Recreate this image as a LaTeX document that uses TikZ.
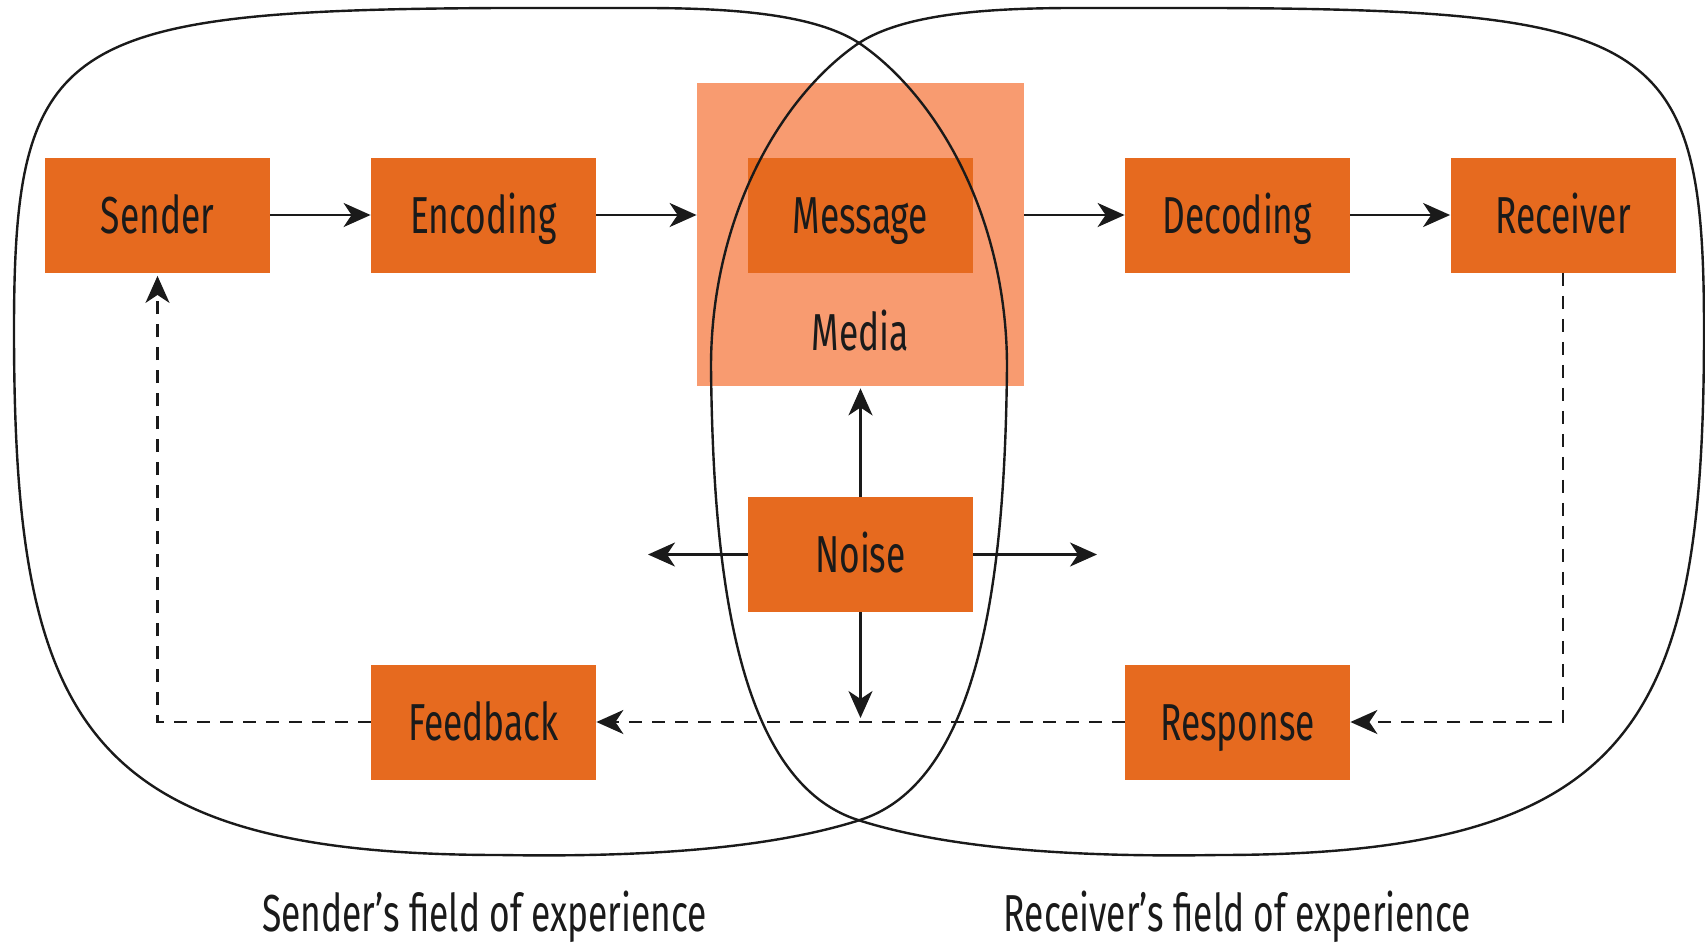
\documentclass[tikz,border=0pt]{standalone}
\usepackage{fontspec}
\setmainfont{Fira Sans}[FakeStretch=0.68]
\usetikzlibrary{arrows.meta}

\definecolor{boxorange}{RGB}{230,106,31}
\definecolor{mediaorange}{RGB}{248,155,112}
\definecolor{ink}{RGB}{26,26,26}

\tikzset{
  labelfont/.style={font=\fontsize{26}{30}\selectfont, text=ink, text height=18pt, text depth=0pt, inner sep=0pt},
  stagebox/.style={labelfont, fill=boxorange, minimum width=112.5pt, minimum height=57.5pt},
  arrowline/.style={draw=ink, line width=1.25pt, -{Stealth[length=13.5pt,width=12pt,inset=4pt]}},
  dashline/.style={arrowline, dash pattern=on 6.5pt off 5pt},
  fieldline/.style={draw=ink, line width=1.2pt},
  fieldoutline/.style={insert path={
    (500,8) .. controls (60,10) and (14,40) .. (14,330)
    .. controls (14,720) and (80,855) .. (500,855)
    .. controls (620,857) and (760,852) .. (860,820)
    .. controls (985,780) and (1005,560) .. (1007,367)
    .. controls (1007,220) and (940,100) .. (862,45)
    .. controls (805,5) and (680,8) .. (600,8) -- cycle}}
}

\begin{document}
\begin{tikzpicture}[x=0.5pt,y=-0.5pt]
  \fill[white] (0,0) rectangle (1705,943);
  \useasboundingbox (0,0) rectangle (1705,943);

  % media band behind the message
  \node[fill=mediaorange, minimum width=163.5pt, minimum height=151.5pt, inner sep=0pt] (media) at (860.5,234.5) {};
  \node[labelfont] (medialabel) at (860.5,332) {Media};

  % stages
  \node[stagebox] (sender)   at (157.5,215) {Sender};
  \node[stagebox] (encoding) at (483.5,215) {Encoding};
  \node[stagebox] (message)  at (860.5,215.5) {Message};
  \node[stagebox] (decoding) at (1237.5,215) {Decoding};
  \node[stagebox] (receiver) at (1563,215) {Receiver};
  \node[stagebox] (noise)    at (860.5,554.5) {Noise};
  \node[stagebox] (feedback) at (483.5,722) {Feedback};
  \node[stagebox] (response) at (1237.5,722) {Response};

  % fields of experience
  \draw[fieldline, fieldoutline];
  \begin{scope}[shift={(1718,0)}, xscale=-1]
    \draw[fieldline, fieldoutline];
  \end{scope}

  \node[labelfont] (senderfield)   at (484.5,913.5) {Sender’s field of experience};
  \node[labelfont] (receiverfield) at (1237.5,913.5) {Receiver’s field of experience};

  % forward flow
  \draw[arrowline] (sender) -- (encoding);
  \draw[arrowline] (encoding.east) -- (encoding.east -| media.west);
  \draw[arrowline] (decoding.west -| media.east) -- (decoding.west);
  \draw[arrowline] (decoding) -- (receiver);

  % feedback loop
  \draw[dashline] (receiver.south) |- (response.east);
  \draw[dashline] (response.west) -- (feedback.east);
  \draw[dashline] (feedback.west) -| ([yshift=-1.5pt]sender.south);

  % noise
  \coordinate (noiseleft)  at (648,554.5);
  \coordinate (noiseright) at (1097,554.5);
  \coordinate (noisedown)  at (860.5,718);
  \draw[arrowline] (noise.north) -- ([yshift=-1pt]media.south);
  \draw[arrowline] (noise.south) -- (noisedown);
  \draw[arrowline] (noise.west) -- (noiseleft);
  \draw[arrowline] (noise.east) -- (noiseright);
\end{tikzpicture}
\end{document}
